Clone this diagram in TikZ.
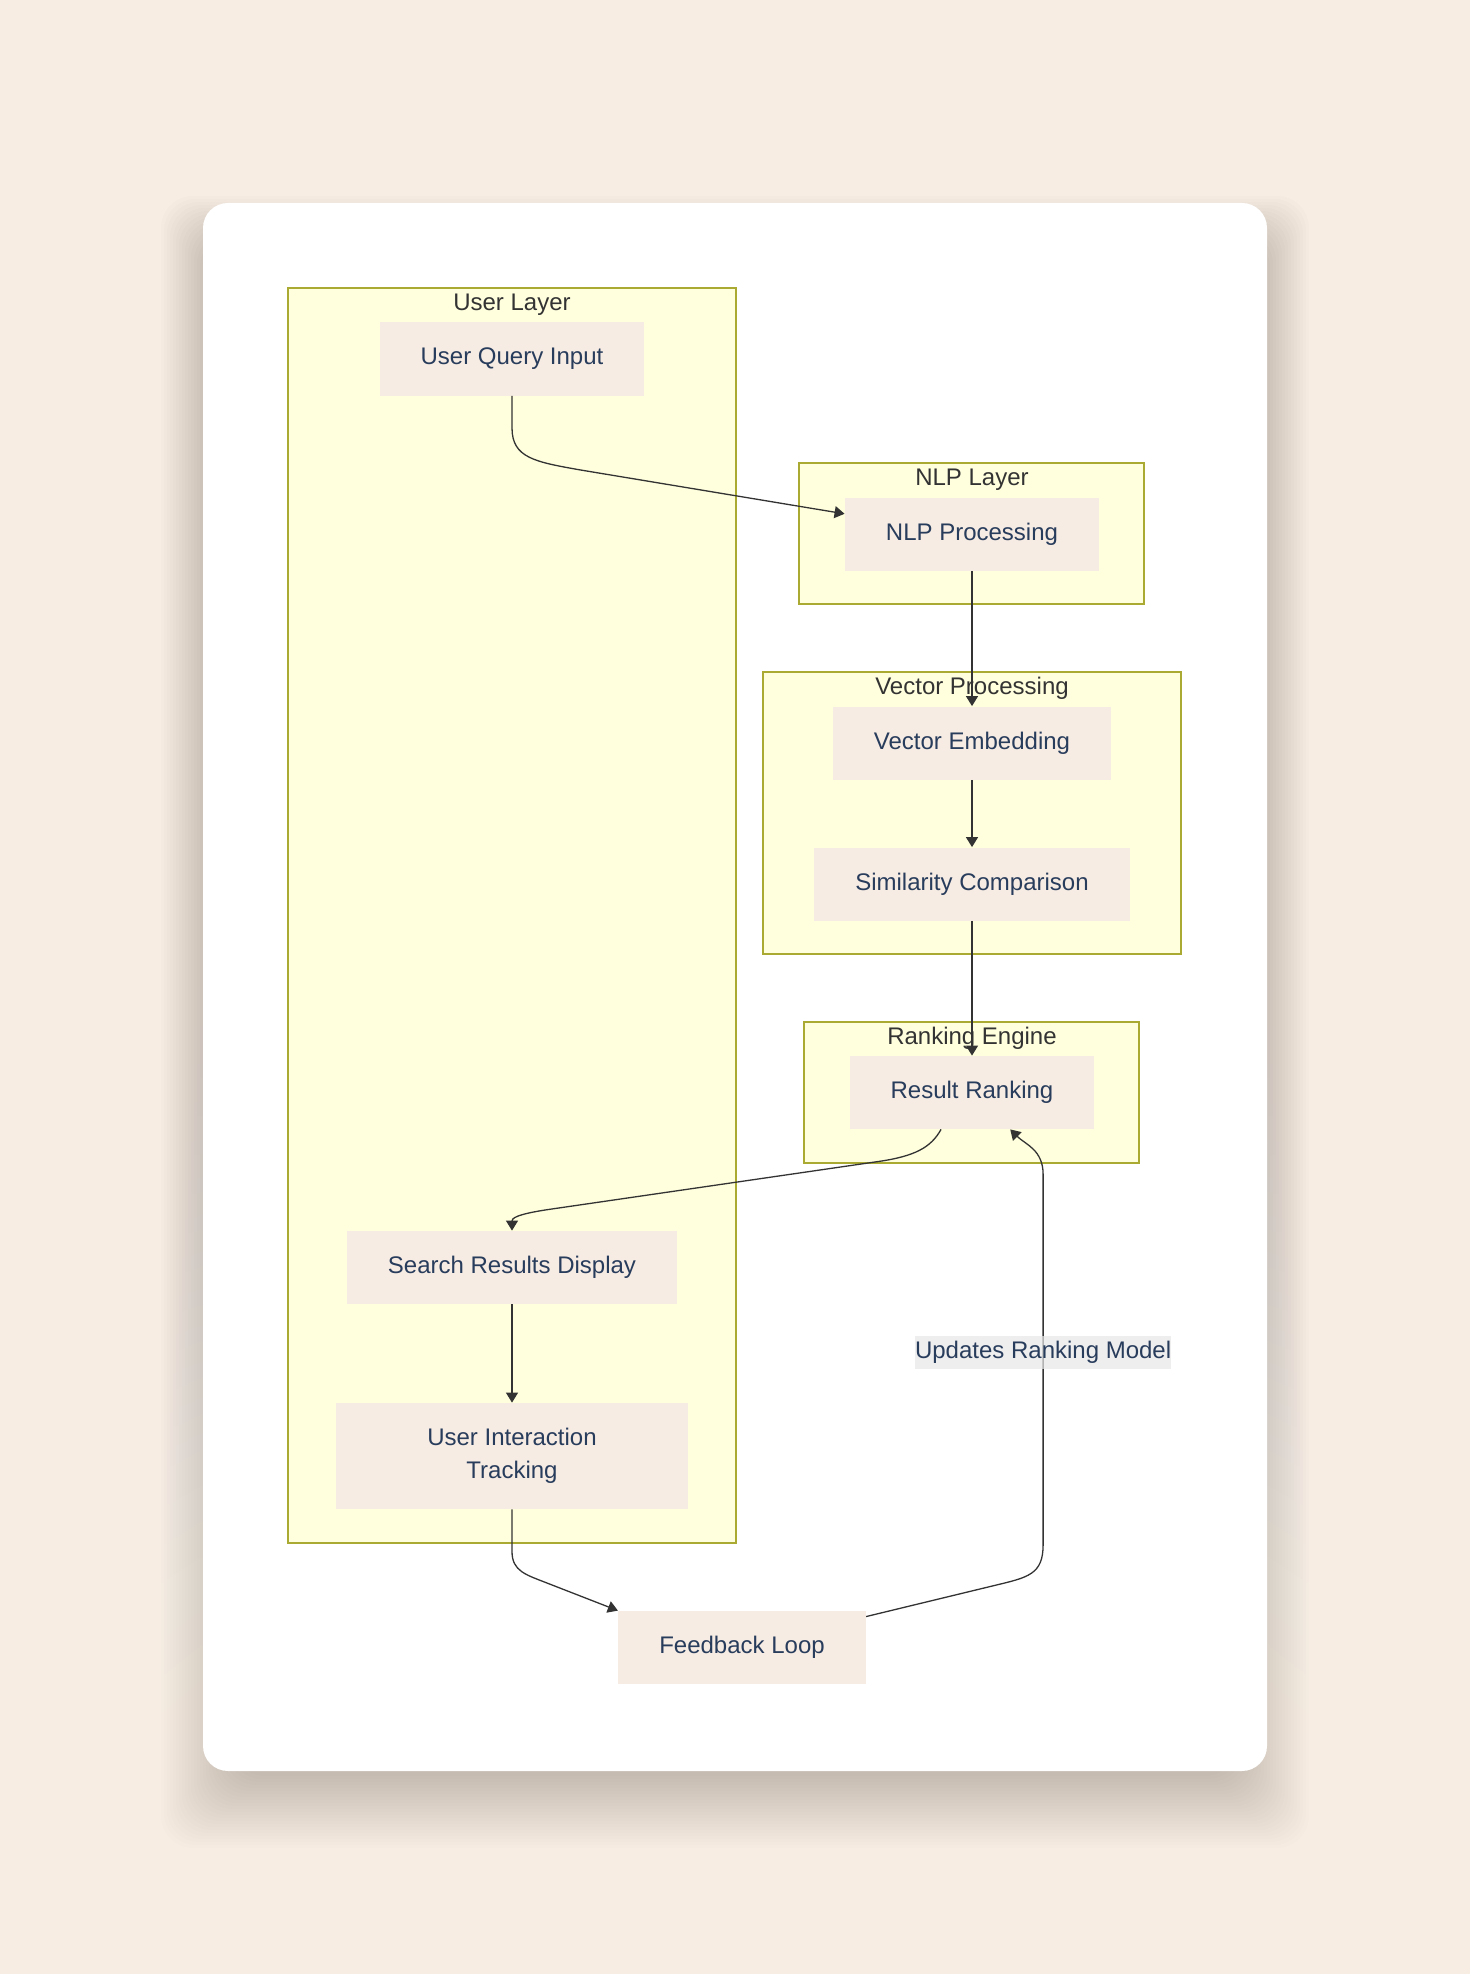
\documentclass[tikz,border=0pt]{standalone}
\usepackage{fontspec}
\setmainfont{Liberation Sans}
\usetikzlibrary{arrows.meta,positioning}
\definecolor{pagebg}{RGB}{247,237,227}
\definecolor{clusterbg}{RGB}{255,255,222}
\definecolor{clusterline}{RGB}{170,170,51}
\definecolor{procbg}{RGB}{247,236,227}
\definecolor{ink}{RGB}{40,60,92}
\definecolor{edgegray}{RGB}{51,51,51}
\definecolor{shade}{RGB}{60,40,25}

\begin{document}
\begin{tikzpicture}[x=0.5pt, y=0.5pt,
  every node/.style={font=\fontsize{12}{16.4}\selectfont},
  cluster/.style={draw=clusterline, line width=0.75pt, fill=clusterbg},
  ctitle/.style={text=black!80, inner sep=0pt},
  proc/.style={fill=procbg, text=ink, minimum height=36.5pt, inner xsep=20.5pt, inner ysep=0pt, align=center},
  edge/.style={-{Triangle[length=5pt, width=6pt]}, line width=0.65pt, draw=edgegray},
  lbl/.style={fill=black!9, fill opacity=0.7, text opacity=1, text=ink, inner xsep=0pt, inner ysep=0pt, minimum height=16.5pt}]
  \fill[pagebg] (0,0) rectangle (1470,-1974);
  \useasboundingbox (0,0) rectangle (1470,-1974);
  % card and its shadow
  \foreach \s in {-30,-27,...,42}
    \fill[shade, opacity=0.009, rounded corners=16pt] (203-\s,-238+\s) rectangle (1267+\s,-1806-\s);
  \fill[white, rounded corners=12.5pt] (203,-203) rectangle (1267,-1771);
  % layers
  \draw[cluster] (288,-288) rectangle (736,-1543);
  \node[ctitle] (tuser) at (512,-305) {User Layer};
  \draw[cluster] (799,-463) rectangle (1144,-604);
  \node[ctitle] (tnlp) at (972,-480) {NLP Layer};
  \draw[cluster] (763,-672) rectangle (1181,-954);
  \node[ctitle] (tvec) at (972,-688) {Vector Processing};
  \draw[cluster] (804,-1022) rectangle (1139,-1163);
  \node[ctitle] (trank) at (972,-1038) {Ranking Engine};
  % steps
  \node[proc] (uq) at (512,-359) {User Query Input};
  \node[proc] (nlp) at (972,-534) {NLP Processing};
  \node[proc] (ve) at (972,-743) {Vector Embedding};
  \node[proc] (sc) at (972,-884) {Similarity Comparison};
  \node[proc] (rr) at (972,-1092.5) {Result Ranking};
  \node[proc] (srd) at (512,-1267.5) {Search Results Display};
  \node[proc, minimum width=176pt, minimum height=53pt] (uit) at (512,-1456) {User Interaction\\Tracking};
  \node[proc] (fb) at (742,-1647.5) {Feedback Loop};
  % flow
  \draw[edge] (uq.south) -- ++(0,-32) .. controls +(0,-30) and +(-45,8) .. ++(68,-42) -- (nlp.171);
  \draw[edge] (nlp) -- (ve);
  \draw[edge] (ve) -- (sc);
  \draw[edge] (sc) -- (rr);
  \draw[edge] (rr.230) .. controls +(-10,-18) and +(36,5.3) .. ++(-62,-32) -- ++(-330,-48) .. controls +(-34,-5) and +(0,12) .. (srd.north);
  \draw[edge] (srd) -- (uit);
  \draw[edge] (uit.south) -- ++(0,-42) .. controls +(0,-20) and +(-22,8.7) .. ++(36,-32) -- (fb.north west);
  \draw[edge] (fb.14) -- ++(128,31) .. controls +(34,8.2) and +(0,-30) .. ++(49,41) -- node[lbl, pos=0.52] (upd) {Updates Ranking Model} ++(0,370) .. controls +(0,25) and +(15,-15) .. (rr.316);
\end{tikzpicture}
\end{document}
